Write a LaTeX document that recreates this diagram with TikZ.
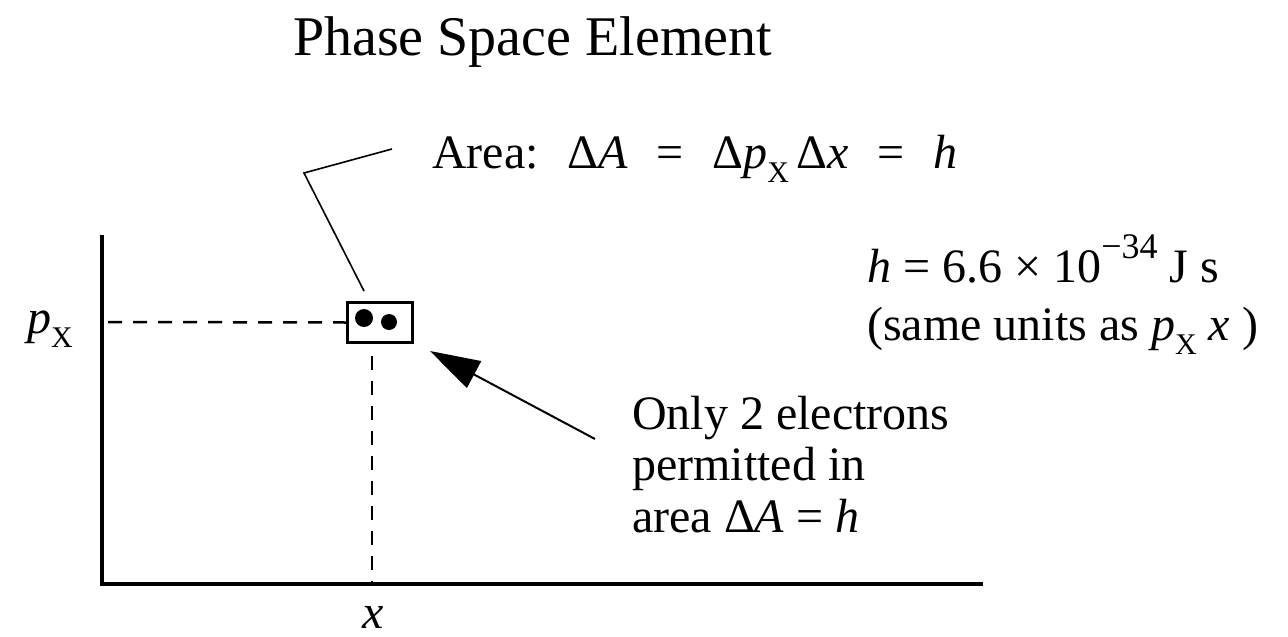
\documentclass[tikz,border=0pt]{standalone}
\usepackage{fontspec}
\setmainfont{Liberation Serif}
\usetikzlibrary{arrows.meta}
\newcommand\subx{\raisebox{-0.3em}{\upshape\fontsize{30}{30}\selectfont X}}
\begin{document}
\begin{tikzpicture}[x=1pt,y=-1pt,
  txt/.style={inner sep=0pt, anchor=base west, font=\fontsize{48}{52}\selectfont},
  axis/.style={line width=4pt},
  guide/.style={line width=2.5pt, dash pattern=on 14pt off 11pt},
  leader/.style={line width=1.6pt},
  ptr/.style={line width=2pt, -{Triangle[length=50pt,width=30pt]}}]
\useasboundingbox (0,0) rectangle (1288,637);
% title
\node[txt, font=\fontsize{56}{60}\selectfont] (title) at (293,55) {Phase Space Element};
% axes
\coordinate (o) at (102,584);
\coordinate (ytop) at (102,235);
\coordinate (xend) at (983,584);
\draw[axis] (ytop) -- (o) -- (xend);
% element box
\node[draw, line width=3pt, minimum width=65pt, minimum height=40pt, inner sep=0pt] (box) at (380,322.5) {};
\fill (364,318) circle (9pt) coordinate (d1);
\fill (389,322) circle (8pt) coordinate (d2);
% dashed guides
\coordinate (yp) at (108,322);
\coordinate (xp) at (372,584);
\draw[guide] (yp) -- (box.west);
\draw[guide] (box.south -| xp) ++(0,12) coordinate (vs) -- (xp);
% axis labels
\node[txt] (px) at (27,333) {\textit{p}\subx};
\node[txt, anchor=base] (xl) at (373,628) {\textit{x}};
% area label with leader
\node[txt] (area) at (432,168) {Area:\hspace{0.6em}Δ\textit{A}\hspace{0.6em}=\hspace{0.6em}Δ\textit{p}\subx\hspace{0.15em}Δ\textit{x}\hspace{0.6em}=\hspace{0.6em}\textit{h}};
\coordinate (l1) at (392,149);
\coordinate (l2) at (304,173);
\coordinate (l3) at (364,291);
\draw[leader] (l1) -- (l2) -- (l3);
% h value
\node[txt] (hval) at (867,282) {\textit{h} = 6.6 × 10\raisebox{0.5em}{\fontsize{36}{36}\selectfont −34} J s};
\node[txt] (units) at (867,340) {(same units as \textit{p}\subx\ \textit{x} )};
% note
\node[txt] (n1) at (632,429) {Only 2 electrons};
\node[txt] (n2) at (632,480) {permitted in};
\node[txt] (n3) at (632,532) {area Δ\textit{A} = \textit{h}};
\coordinate (as) at (595,439);
\coordinate (at) at (430,351);
\draw[ptr] (as) -- (at);
\end{tikzpicture}
\end{document}
